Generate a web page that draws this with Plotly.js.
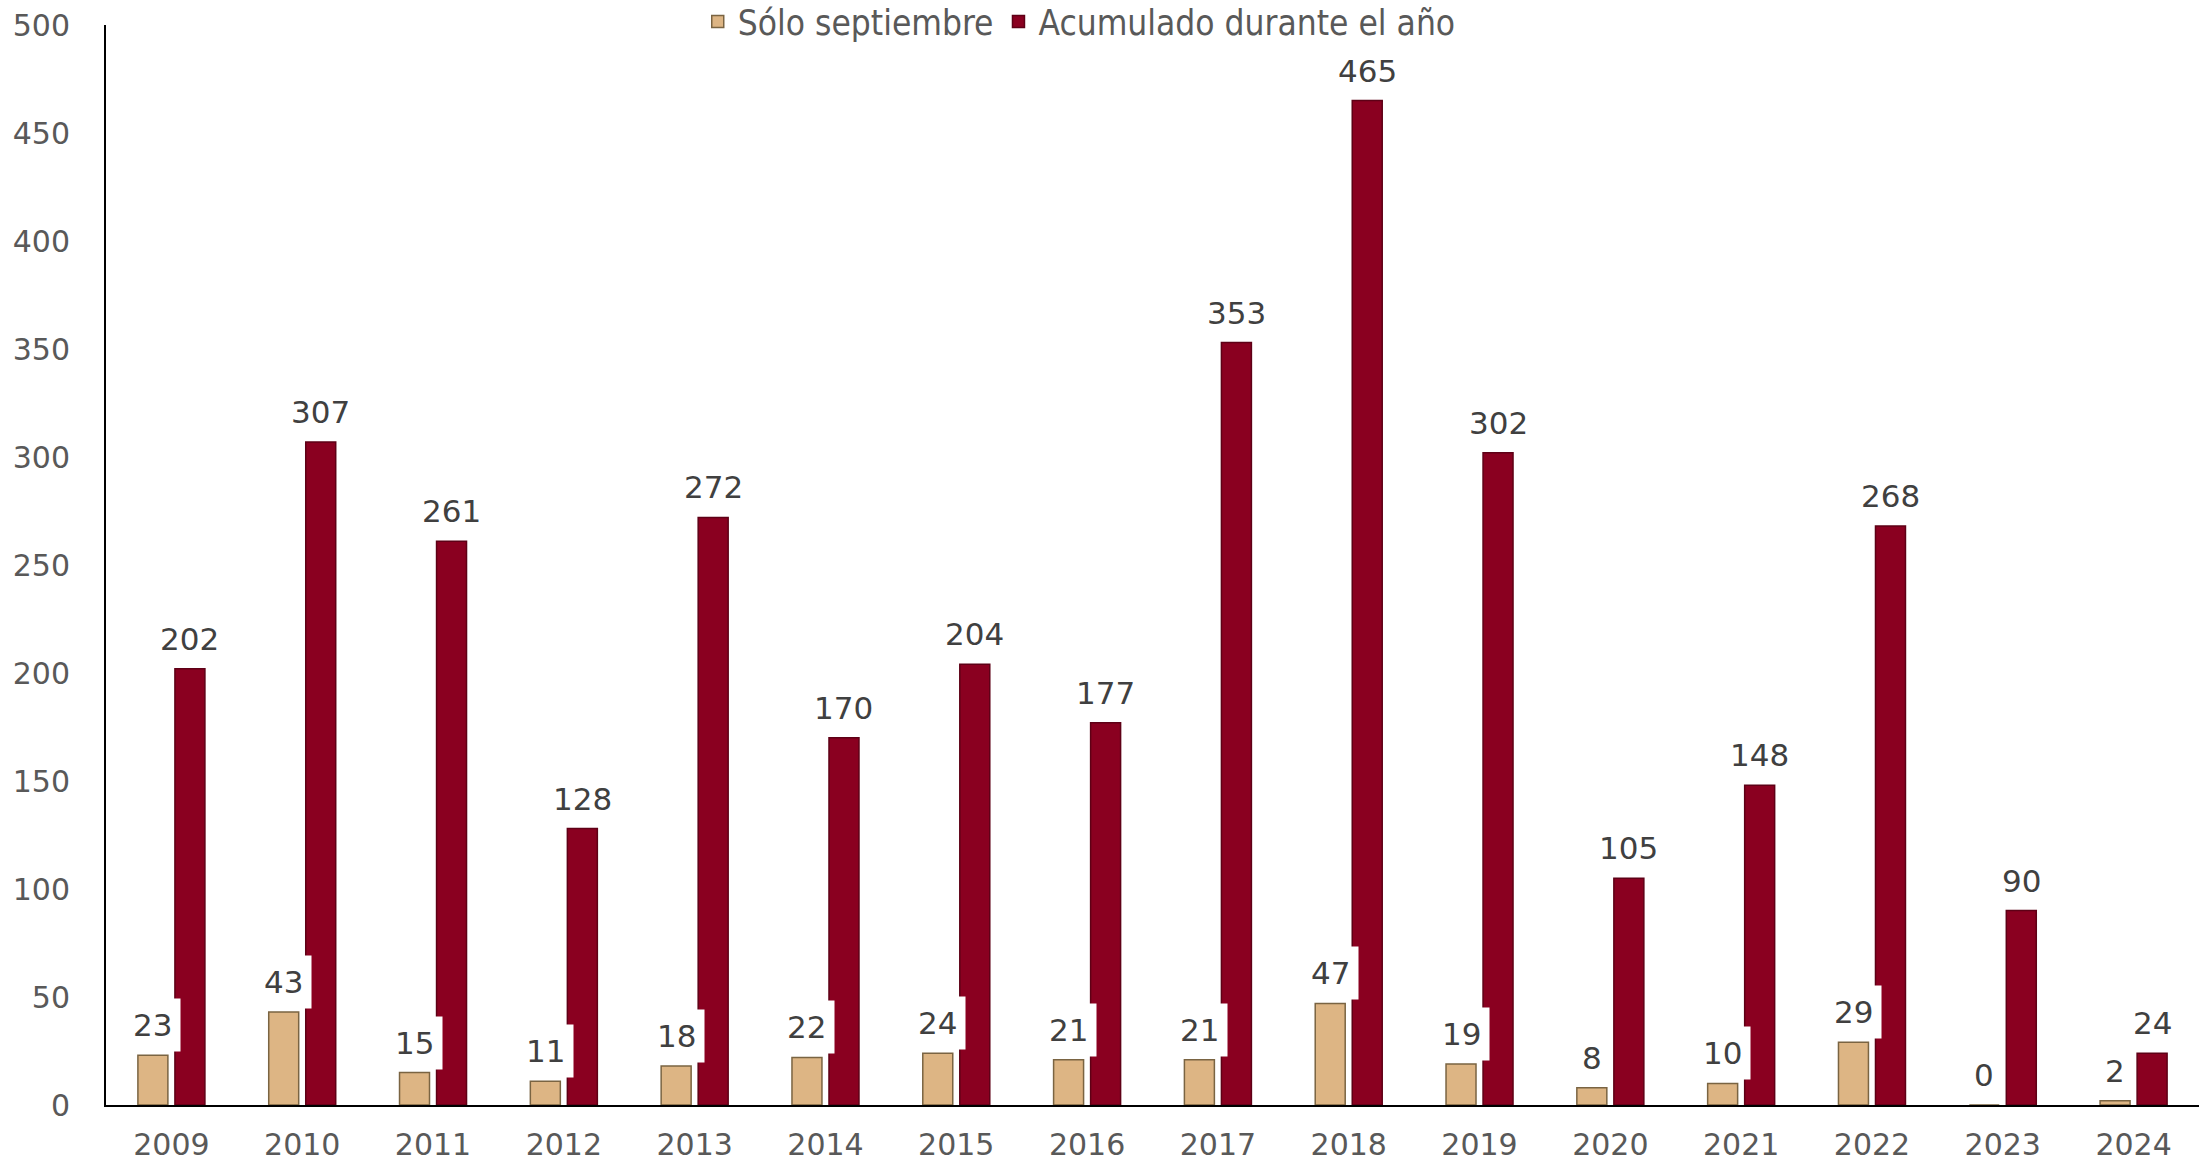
<!DOCTYPE html>
<html>
<head>
<meta charset="utf-8">
<script src="https://cdn.plot.ly/plotly-3.0.1.min.js"></script>
<style>html,body{margin:0;padding:0;background:#fff;}#chart{width:2203px;height:1162px;}</style>
</head>
<body>
<div id="chart"></div>
<script>
const years = ['2009','2010','2011','2012','2013','2014','2015','2016','2017','2018','2019','2020','2021','2022','2023','2024'];
const soloSeptiembre = [23,43,15,11,18,22,24,21,21,47,19,8,10,29,0,2];
const acumulado = [202,307,261,128,272,170,204,177,353,465,302,105,148,268,90,24];
const seriesNames = ['Sólo septiembre','Acumulado durante el año'];
const yTicks = [0,50,100,150,200,250,300,350,400,450,500];

const labelFont = {family:'DejaVu Sans, Verdana, sans-serif', size:31, color:'#404040'};

const traces = [
  {type:'bar', name:seriesNames[0], x:years, y:soloSeptiembre,
   marker:{color:'#DDB584', line:{color:'#7a6442', width:1.5}}, hoverinfo:'x+y'},
  {type:'bar', name:seriesNames[1], x:years, y:acumulado,
   marker:{color:'#8A0020', line:{color:'#5e0016', width:1.5}}, hoverinfo:'x+y'}
];

const annotations = [];
years.forEach((yr,i)=>{
  annotations.push({x:i, y:soloSeptiembre[i], xref:'x', yref:'y', text:String(soloSeptiembre[i]),
    showarrow:false, xshift:-18.5, yshift:3, yanchor:'bottom', xanchor:'center',
    bgcolor:'#ffffff', borderpad:8, font:labelFont});
  annotations.push({x:i, y:acumulado[i], xref:'x', yref:'y', text:String(acumulado[i]),
    showarrow:false, xshift:18.5, yshift:3, yanchor:'bottom', xanchor:'center',
    borderpad:8, font:labelFont});
});

const layout = {
  width:2203, height:1162,
  margin:{l:106, r:4, t:25, b:57, autoexpand:false},
  paper_bgcolor:'#ffffff', plot_bgcolor:'#ffffff',
  barmode:'group', bargap:0.434, bargroupgap:0.19,
  showlegend:true,
  legend:{orientation:'h', xref:'paper', x:0.465, xanchor:'center',
    yref:'paper', y:1.003, yanchor:'middle',
    font:{family:'Liberation Sans Narrow, DejaVu Sans Condensed, sans-serif', size:35, color:'#595959'},
    bgcolor:'rgba(0,0,0,0)', traceorder:'normal', itemwidth:30},
  xaxis:{type:'category', categoryorder:'array', categoryarray:years, range:[-0.5, years.length-0.5],
    showline:true, linecolor:'#000000', linewidth:2, showgrid:false, zeroline:false,
    ticks:'outside', ticklen:12, tickcolor:'rgba(0,0,0,0)',
    tickfont:{family:'DejaVu Sans, Verdana, sans-serif', size:30, color:'#595959'}},
  yaxis:{range:[0,500], tickvals:yTicks, ticktext:yTicks.map(String), showline:true, linecolor:'#000000', linewidth:2,
    showgrid:false, zeroline:false, ticks:'outside', ticklen:28, tickcolor:'rgba(0,0,0,0)',
    tickfont:{family:'DejaVu Sans, Verdana, sans-serif', size:30, color:'#595959'}},
  annotations:annotations
};

Plotly.newPlot('chart', traces, layout, {displayModeBar:false, staticPlot:true});
</script>
</body>
</html>
